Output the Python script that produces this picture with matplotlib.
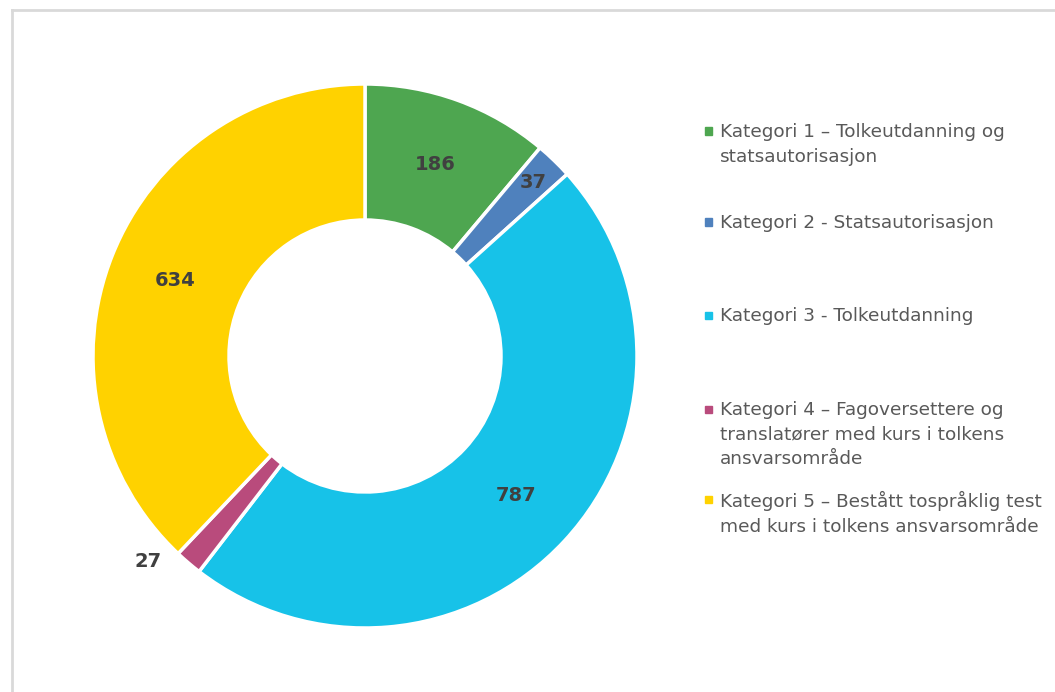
import matplotlib
matplotlib.use("Agg")
import matplotlib.pyplot as plt
import numpy as np
from matplotlib.patches import Rectangle
from matplotlib.lines import Line2D

categories = [
    "Kategori 1 – Tolkeutdanning og\nstatsautorisasjon",
    "Kategori 2 - Statsautorisasjon",
    "Kategori 3 - Tolkeutdanning",
    "Kategori 4 – Fagoversettere og\ntranslatører med kurs i tolkens\nansvarsområde",
    "Kategori 5 – Bestått tospråklig test\nmed kurs i tolkens ansvarsområde",
]
values = [186, 37, 787, 27, 634]
colors = ["#4EA650", "#4F81BD", "#17C2E8", "#B94B7C", "#FFD200"]

# label placement (fraction of outer radius, angle tweak in degrees)
label_radius = [0.75, 0.89, 0.755, 1.10, 0.75]
label_angle_tweak = [0, 0, 0, 6, 0]
legend_y_px = [131, 222, 315, 409, 499]

W, H = 1055, 692
fig = plt.figure(figsize=(W / 100, H / 100), dpi=100)

cx, cy, R = 365, 356, 272
ax = fig.add_axes([(cx - R) / W, (H - cy - R) / H, 2 * R / W, 2 * R / H])
wedges, _ = ax.pie(values, colors=colors, startangle=90, counterclock=False,
                   radius=1.0, wedgeprops=dict(width=0.5, edgecolor="white", linewidth=2.5))
ax.set_xlim(-1, 1)
ax.set_ylim(-1, 1)
ax.set_aspect("equal")
ax.axis("off")

total = sum(values)
cum = 0
for v, r, tw in zip(values, label_radius, label_angle_tweak):
    mid = (cum + v / 2) / total * 360 + tw
    cum += v
    ang = np.deg2rad(90 - mid)
    ax.text(r * np.cos(ang), r * np.sin(ang), str(v), ha="center", va="center",
            fontsize=14, fontweight="bold", color="#404040")

# legend
for cat, col, y in zip(categories, colors, legend_y_px):
    fig.patches.append(Rectangle(((705) / W, (H - y - 3.5) / H), 7 / W, 7 / H,
                                 transform=fig.transFigure, color=col))
    fig.text(720 / W, (H - y + 8) / H, cat, ha="left", va="top", fontsize=13.3,
             color="#595959", linespacing=1.48)

# frame lines
fig.add_artist(Line2D([12 / W, 1], [(H - 10) / H] * 2, color="#D9D9D9", lw=2,
                      transform=fig.transFigure))
fig.add_artist(Line2D([12 / W] * 2, [0, (H - 10) / H], color="#D9D9D9", lw=2,
                      transform=fig.transFigure))

fig.savefig("out.png", dpi=100)
